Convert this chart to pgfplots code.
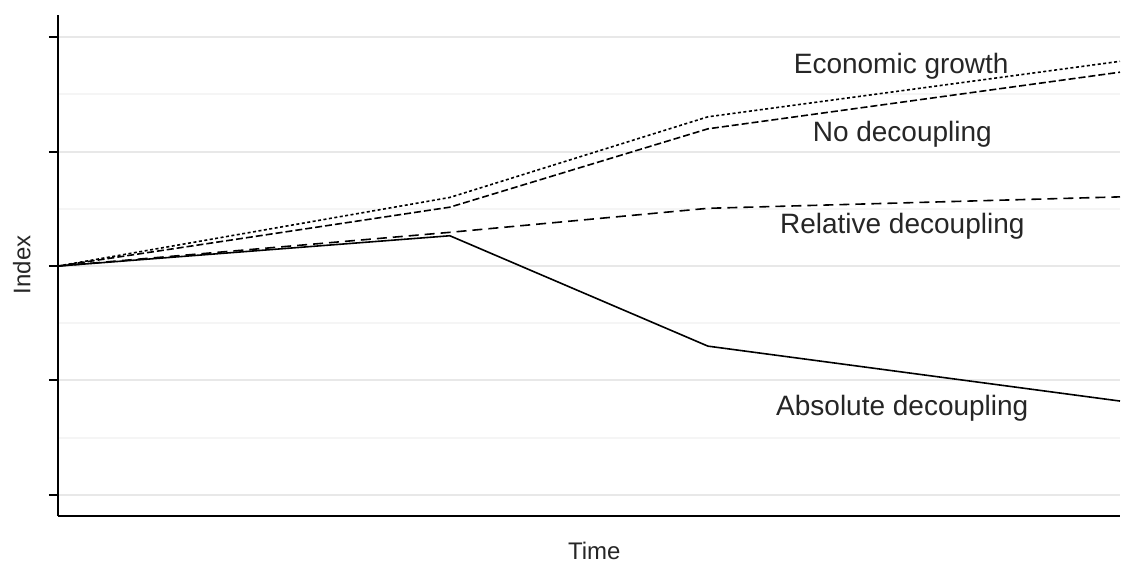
\documentclass[border=0pt]{standalone}
\usepackage{pgfplots}
\pgfplotsset{compat=1.18}
\usepackage{fontspec}
\setmainfont{Liberation Sans}
\begin{document}
\begin{tikzpicture}
\path[use as bounding box] (0,0) rectangle (1122pt,563pt);
\begin{axis}[
  at={(58pt,47pt)}, anchor=south west,
  scale only axis, width=1062pt, height=501pt,
  xmin=0, xmax=10, ymin=56.3, ymax=143.9,
  xtick=\empty,
  ytick={60,80,100,120,140}, yticklabels={},
  minor ytick={70,90,110,130},
  tick align=outside, major tick length=9pt, minor tick length=0pt,
  tick style={black, line width=2pt},
  axis x line*=bottom, axis y line*=left,
  axis line style={-, black, line width=2pt},
  ymajorgrids, yminorgrids,
  major grid style={color=black!9, line width=2pt},
  minor grid style={color=black!4, line width=2pt},
  xlabel={Time}, ylabel={Index},
  label style={font=\fontsize{24}{28}\selectfont, text=black!85},
  xlabel style={at={(axis description cs:0.505,-0.070)}, anchor=center},
  ylabel style={at={(axis description cs:-0.034,0.501)}, anchor=center},
  clip=false,
]
\addplot[black, line width=1.6pt, dash pattern=on 3pt off 2.5pt] coordinates {(0,100) (3.69,112.0) (6.12,126.1) (10,135.8)};
\addplot[black, line width=1.6pt, dash pattern=on 7pt off 3pt] coordinates {(0,100) (3.69,110.3) (6.12,124.0) (10,133.9)};
\addplot[black, line width=1.6pt, dash pattern=on 10pt off 6pt] coordinates {(0,100) (3.69,105.9) (6.12,110.1) (10,112.1)};
\addplot[black, line width=1.6pt] coordinates {(0,100) (3.69,105.3) (6.12,86.0) (10,76.4)};
\node[font=\fontsize{28}{32}\selectfont, text=black!85] at (axis cs:7.94,135.0) {Economic growth};
\node[font=\fontsize{28}{32}\selectfont, text=black!85] at (axis cs:7.95,123.0) {No decoupling};
\node[font=\fontsize{28}{32}\selectfont, text=black!85] at (axis cs:7.95,107.0) {Relative decoupling};
\node[font=\fontsize{28}{32}\selectfont, text=black!85] at (axis cs:7.95,75.1) {Absolute decoupling};
\end{axis}
\end{tikzpicture}
\end{document}
